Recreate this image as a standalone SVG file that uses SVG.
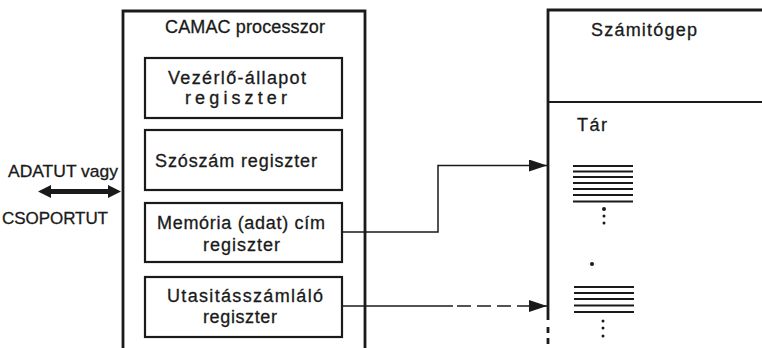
<svg xmlns="http://www.w3.org/2000/svg" width="762" height="348" viewBox="0 0 762 348">
<defs>
<style>
text{font-family:"Liberation Sans","DejaVu Sans",sans-serif;font-size:18px;fill:#1a1a1a;stroke:#1a1a1a;stroke-width:0.3}
.lg{font-size:17px}
.box{fill:none;stroke:#1a1a1a;stroke-width:2.2}
.big{fill:none;stroke:#1a1a1a;stroke-width:2.8}
.wire{fill:none;stroke:#1a1a1a;stroke-width:1.5}
.stripe{stroke:#1a1a1a;stroke-width:2.2}
.dot{fill:#1a1a1a}
</style>
<marker id="ah" markerWidth="18" markerHeight="12" refX="18" refY="6" orient="auto" markerUnits="userSpaceOnUse">
<path d="M0,0 L18,6 L0,12 Z" fill="#1a1a1a"/>
</marker>
</defs>
<rect width="762" height="348" fill="#ffffff"/>

<g id="processor">
<path class="big" d="M123,352 V11 H365 V352"/>
<text x="165" y="33" textLength="160" lengthAdjust="spacing">CAMAC processzor</text>
</g>

<g id="vezerlo">
<rect class="box" x="145" y="58" width="197" height="60"/>
<text x="168" y="84" textLength="138" lengthAdjust="spacing">Vezérlő-állapot</text>
<text x="185" y="104" textLength="102" lengthAdjust="spacing">regiszter</text>
</g>

<g id="szoszam">
<rect class="box" x="145" y="130" width="197" height="60"/>
<text x="155" y="167" textLength="162" lengthAdjust="spacing">Szószám regiszter</text>
</g>

<g id="memoria">
<rect class="box" x="145" y="203" width="197" height="59"/>
<text x="157" y="229" textLength="168" lengthAdjust="spacing">Memória (adat) cím</text>
<text x="203" y="251" textLength="77" lengthAdjust="spacing">regiszter</text>
</g>

<g id="utasitas">
<rect class="box" x="145" y="277" width="197" height="60"/>
<text x="167" y="302" textLength="156" lengthAdjust="spacing">Utasitásszámláló</text>
<text x="203" y="323" textLength="74" lengthAdjust="spacing">regiszter</text>
</g>

<g id="szamitogep">
<path class="big" d="M548,320 V10 H764"/>
<path class="big" d="M548,327 V333 M548,338 V344" />
<line class="box" x1="548" y1="102" x2="764" y2="102"/>
<text x="591" y="36" textLength="106" lengthAdjust="spacing">Számitógep</text>
<text x="577" y="131" textLength="30" lengthAdjust="spacing">Tár</text>
<g id="tar-stack1">
<line class="stripe" x1="573" y1="166" x2="633" y2="166"/>
<line class="stripe" x1="573" y1="171.5" x2="633" y2="171.5"/>
<line class="stripe" x1="573" y1="177" x2="633" y2="177"/>
<line class="stripe" x1="573" y1="183" x2="633" y2="183"/>
<line class="stripe" x1="573" y1="189" x2="633" y2="189"/>
<line class="stripe" x1="573" y1="195" x2="633" y2="195"/>
<line class="stripe" x1="573" y1="201.5" x2="633" y2="201.5"/>
<circle class="dot" cx="604" cy="209" r="2"/>
<circle class="dot" cx="604" cy="216" r="1.5"/>
<circle class="dot" cx="604" cy="223" r="1.5"/>
</g>
<circle class="dot" cx="592" cy="264" r="2"/>
<g id="tar-stack2">
<line class="stripe" x1="574" y1="287" x2="634" y2="287"/>
<line class="stripe" x1="574" y1="293" x2="634" y2="293"/>
<line class="stripe" x1="574" y1="299" x2="634" y2="299"/>
<line class="stripe" x1="574" y1="305.5" x2="634" y2="305.5"/>
<line class="stripe" x1="574" y1="312" x2="634" y2="312"/>
<circle class="dot" cx="603" cy="321" r="1.5"/>
<circle class="dot" cx="603" cy="328" r="1.5"/>
<circle class="dot" cx="603" cy="336" r="1.5"/>
</g>
</g>

<g id="adatut">
<text class="lg" x="8" y="177" textLength="110" lengthAdjust="spacingAndGlyphs">ADATUT vagy</text>
<text class="lg" x="2" y="224" textLength="106" lengthAdjust="spacing">CSOPORTUT</text>
<path d="M38,191.5 L51,185 L51,189 L108,189 L108,185 L121,191.5 L108,198 L108,194 L51,194 L51,198 Z" fill="#1a1a1a"/>
</g>

<g id="connectors">
<path class="wire" d="M342,232 H438 V165.5 H547" marker-end="url(#ah)"/>
<path class="wire" d="M342,306 H453"/>
<path class="wire" d="M457,306 H547" stroke-dasharray="14 6" marker-end="url(#ah)"/>
</g>
</svg>
